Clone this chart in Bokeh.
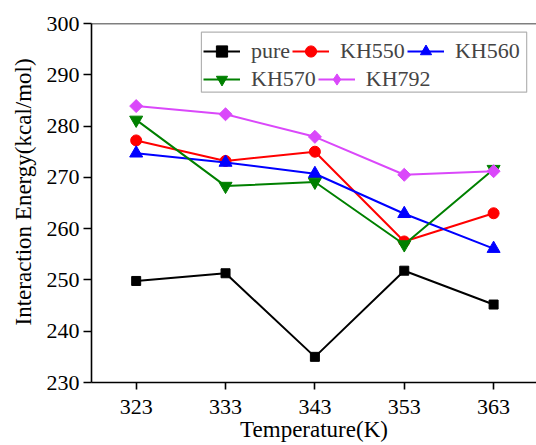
from bokeh.plotting import figure
from bokeh.models import (Range1d, FixedTicker, Legend, LegendItem, Span, BoxAnnotation, Title)
from bokeh.embed import file_html
from bokeh.resources import INLINE

temps = [323, 333, 343, 353, 363]
pure = [249.8, 251.3, 235.0, 251.8, 245.2]
kh550 = [277.2, 273.2, 275.0, 257.5, 263.0]
kh560 = [274.7, 272.9, 270.7, 262.9, 256.1]
kh570 = [281.2, 268.3, 269.1, 256.9, 271.6]
kh792 = [283.9, 282.3, 277.9, 270.5, 271.2]

x_ticks = [323, 333, 343, 353, 363]
y_ticks = [230, 240, 250, 260, 270, 280, 290, 300]

FONT = '"Liberation Serif", "Times New Roman", serif'

p = figure(width=536, height=445, output_backend="svg", toolbar_location=None,
           x_range=Range1d(318, 367.8), y_range=Range1d(230, 300),
           min_border_left=91, min_border_right=0, min_border_top=23,
           min_border_bottom=63)
p.outline_line_color = None
p.xgrid.visible = False
p.ygrid.visible = False
p.background_fill_color = "white"
p.border_fill_color = "white"

for ax in (p.xaxis[0], p.yaxis[0]):
    ax.major_label_text_font = FONT
    ax.major_label_text_font_size = "22px"
    ax.major_label_text_color = "black"
    ax.axis_label_text_font = FONT
    ax.axis_label_text_font_size = "23px"
    ax.axis_label_text_font_style = "normal"
    ax.axis_label_text_color = "black"
    ax.axis_line_width = 1.6
    ax.axis_line_color = "black"
    ax.major_tick_line_width = 1.6
    ax.major_tick_line_color = "black"
    ax.major_tick_in = 0
    ax.minor_tick_line_color = None

p.xaxis[0].ticker = FixedTicker(ticks=x_ticks)
p.yaxis[0].ticker = FixedTicker(ticks=y_ticks)
p.xaxis[0].major_tick_out = 7
p.yaxis[0].major_tick_out = 8
p.xaxis[0].major_label_standoff = 10
p.yaxis[0].major_label_standoff = 4
p.xaxis[0].axis_label_standoff = 0
p.xaxis[0].axis_label = "Temperature(K)"

# y-axis title, anchored from the bottom of the frame as in the original
ytitle = Title(text="Interaction Energy(kcal/mol)", align="left", offset=57,
               text_font=FONT, text_font_size="23px", text_font_style="normal",
               text_color="black", standoff=15)
p.add_layout(ytitle, "left")

# top frame line
p.add_layout(Span(location=300, dimension="width", line_color="black", line_width=1.6))

series = [
    ("pure", pure, "black", "square", 9, 0),
    ("KH550", kh550, "#FF0000", "circle", 11, 0),
    ("KH560", kh560, "#0000FF", "triangle", 13, 0),
    ("KH570", kh570, "#008000", "inverted_triangle", 13, 0),
    ("KH792", kh792, "#DA48FA", "square", 9.2, 45),
]

items = []
for name, vals, color, marker, size, ang in series:
    l = p.line(temps, vals, line_color=color, line_width=2)
    s = p.scatter(temps, vals, marker=marker, size=size, fill_color=color,
                  line_color=color, angle=ang, angle_units="deg")
    rs = [l, s]
    if ang:
        # legend swatch: the legend ignores marker rotation, so use a diamond
        d = p.scatter([float("nan")], [float("nan")], marker="diamond", size=size,
                      fill_color=color, line_color=color)
        rs = [l, d]
    items.append(LegendItem(label=name, renderers=rs))

def make_legend(its, loc):
    lg = Legend(items=its, location=loc, orientation="horizontal",
                glyph_width=37, glyph_height=28, label_standoff=11, spacing=2,
                padding=0, margin=0, border_line_color=None,
                background_fill_alpha=0, label_text_font=FONT,
                label_text_font_size="22px", label_height=26)
    return lg

p.add_layout(make_legend(items[:3], (112, 317)))
p.add_layout(make_legend(items[3:], (112, 289)))

# legend frame box
box_left, box_right, box_top, box_bottom = 330.3, 366.7, 298.3, 286.6
p.add_layout(BoxAnnotation(left=box_left, right=box_right, top=box_top, bottom=box_bottom,
                           fill_alpha=0, line_color="black", line_width=1.2))

open("out.html", "w").write(file_html(p, INLINE))
